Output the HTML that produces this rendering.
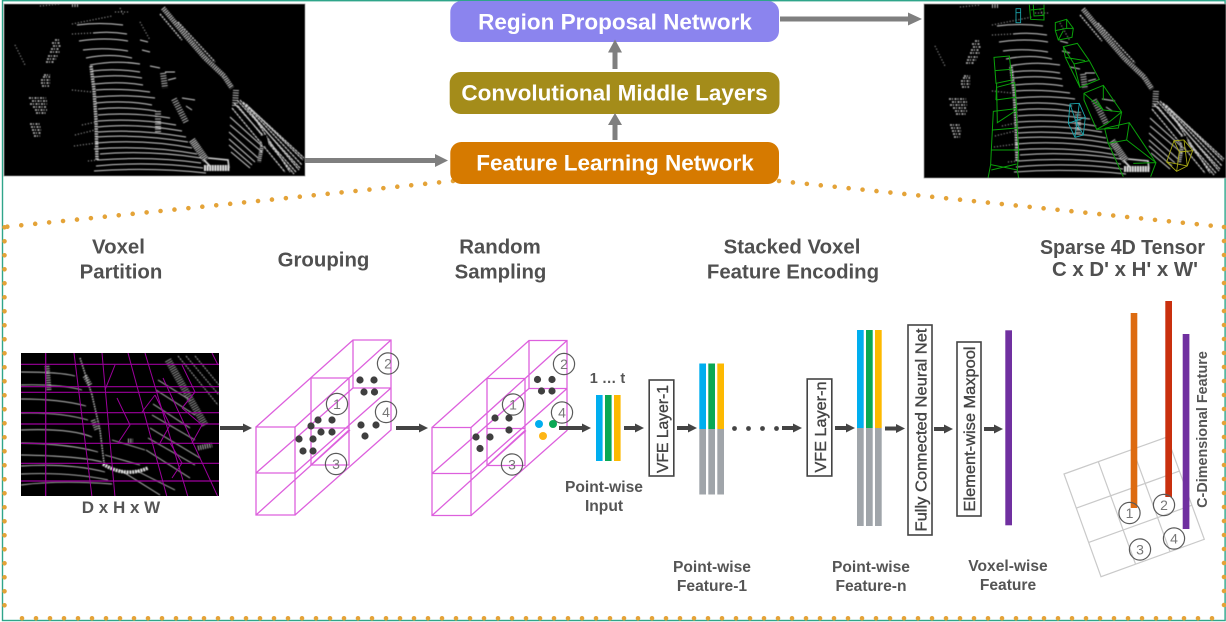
<!DOCTYPE html>
<html><head><meta charset="utf-8"><style>
html,body{margin:0;padding:0;background:#fff}
svg{display:block}
text{font-family:"Liberation Sans",sans-serif}
.h{font-weight:700;font-size:20.4px;fill:#505050;text-anchor:middle}
.s{font-weight:700;font-size:15.6px;fill:#555;text-anchor:middle}
.t{font-weight:700;font-size:22.5px;fill:#fff;text-anchor:middle}
.r{font-size:15.6px;font-weight:400;fill:#444;stroke:#444;stroke-width:.35;text-anchor:middle}
.n{font-size:14px;fill:#777;text-anchor:middle}
</style></head><body>
<svg width="1226" height="622" viewBox="0 0 1226 622" xmlns="http://www.w3.org/2000/svg">
<defs>
<filter id="b" x="-5%" y="-5%" width="110%" height="110%"><feGaussianBlur stdDeviation=".4"/></filter>
<g id="cloud" fill="none" stroke="#d0d0d0" filter="url(#b)">
<path stroke-width="1" d="M77 25Q100 22 123 25M93 33Q110 31 127 34M79 41Q105 37 128 41M83 50Q105 47 128 51M86 58Q110 53 132 58M90 65Q115 60 140 64M92 71Q115 68 140 72M94 77Q118 74 142 78M95 84Q120 81 143 85M96 90Q120 88 150 92M96 97Q125 94 155 98M96 103Q125 100 152 105M98 109Q125 106 156 111M98 115Q130 112 170 118M98 121Q135 118 176 125M98 127Q135 123 182 131M98 132Q140 129 186 137M96 137Q140 134 188 142M96 143Q145 139 192 148M94 149Q145 145 197 154M100 154Q150 150 201 158M98 160Q150 156 201 163M96 166Q150 161 203 168M94 171Q150 167 206 173"/>
<path stroke-width="1" d="M230 117L262 146M230 125L262 152M229 132L258 158M229 139L255 162M229 145L252 165M231 152L250 168M140 40L148 42M142 50L150 52M150 66L160 68M165 72L175 72M168 80L176 78M182 98L195 100M186 106L192 110"/>
<path stroke-width="1.2" stroke-dasharray="3 .6" d="M237 100L300 168M240 100L299 170M234 103L296 172M243 102L302 165M246 104L303 160M250 108L304 158M252 114L290 172M232 108L285 172M238 106L294 174"/>
<path stroke="#c0c0c0" stroke-width="5" stroke-dasharray="1.2 1" d="M163 8L186 36L205 58L224 76L232 88"/>
<path stroke="#c4c4c4" stroke-width="1.5" stroke-dasharray="2 1" d="M160 14L182 40M178 22L215 62"/>
<path stroke-width="3.5" stroke-dasharray="1.5 1" d="M91 66L94 90L96 120L97 160"/>
<path stroke="#c8c8c8" stroke-width="1.6" stroke-dasharray="2 1 1 1.5" d="M46 62H54M47 59H56M48 56H58M50 52H60M51 49H59M53 46H61M52 43H60M55 40H59M42 86H49M41 83H50M41 80H50M43 77H50M44 75H50M29 98H46M32 101H47M30 104H47M33 107H47M35 110H47M36 113H46M30 124H41M31 127H42M32 130H41M33 133H41M34 136H40"/>
<path stroke="#bdbdbd" stroke-width="6" stroke-dasharray="1 1.5" d="M158 111V132M163 73L165 88M174 99L186 122M236 90L235 106M72 4H78"/>
<path stroke="#c0c0c0" stroke-width="1" stroke-dasharray="1 2" d="M15 45L25 65M72 24L112 16M115 12L128 12M72 34L92 33M140 22L150 40M40 6L60 4M120 8L124 16M72 90L92 92M82 125L96 122M75 135L95 130M74 146L96 143M88 161L98 160"/>
<path stroke="#d4d4d4" stroke-width="7" stroke-dasharray="1 1" d="M192 140L206 160"/>
<path stroke="#e4e4e4" stroke-width="6" stroke-dasharray="2 .6" d="M204 168H230"/>
<path stroke="#d4d4d4" stroke-width="1.6" d="M208 158L228 160L229 168M204 160L210 166"/>
<path stroke="#d0d0d0" stroke-width="4" stroke-dasharray="1 1" d="M262 146L259 162"/>
<path stroke="#000" stroke-width="7" d="M263 135L266 146"/>
</g>
<g id="vox" fill="none">
<g stroke="#dd60dd" stroke-width="1.3">
<path d="M256 427L353 340H391V430L295 515M295 427L391 340M256 473L353 388M295 473L391 388M256 515L350 430M353 340V388H391"/>
<path d="M311 378V465H349V378H311M311 428H349M311 465L349 430"/>
<path d="M256 427H295V515H256ZM256 473H295"/>
</g>
<g stroke="#5a5a5a" stroke-width="1.2">
<circle cx="337" cy="404" r="10.6"/><circle cx="388" cy="363.5" r="10.6"/><circle cx="386" cy="412" r="10.6"/><circle cx="336" cy="464" r="10.6"/>
</g>
</g>
</defs>

<rect x="2.5" y="0.7" width="1222.6" height="619.8" fill="#fff" stroke="#2fa58a" stroke-width="1.4"/>

<!-- dotted callout -->
<g fill="none" stroke="#e4a338" stroke-width="4.6" stroke-linecap="round" stroke-dasharray="0 14">
<path d="M453 181L4.5 227"/>
<path d="M779 181L1224 227"/>
<path d="M4.5 227.3V618"/>
<path d="M22 618.3H1224"/>
<path d="M1224 227V618"/>
</g>

<!-- point cloud left -->
<svg x="4" y="4" width="301" height="172" viewBox="4 4 301 172">
<rect x="4" y="4" width="301" height="172" fill="#000"/>
<use href="#cloud"/>
</svg>
<rect x="4" y="4" width="301" height="172" fill="none" stroke="#999" stroke-width=".8"/>

<!-- point cloud right -->
<svg x="924" y="4" width="302" height="174" viewBox="924 4 302 174">
<rect x="924" y="4" width="302" height="174" fill="#000"/>
<use href="#cloud" transform="translate(920,1)"/>
<g transform="translate(900,0) scale(.3333)" fill="none" stroke="#0aa00a" stroke-width="3">
<path d="M388 14L392 58L432 60V14M392 30L432 26M400 14L402 48L432 46"/>
<path d="M466 68L500 58L520 85L516 112L475 120L466 92ZM466 92L500 85L520 85M500 58V85M475 120L490 92"/>
<path d="M490 140L532 130L568 182L522 192L490 140ZM490 140L496 172L540 262L598 238L568 182M522 192L540 262M496 172L555 182"/>
<path d="M552 280L610 256L665 336L620 372L590 388L552 300ZM552 280L610 330L665 336M610 256L610 300M590 300L610 330M590 388L655 384L665 336"/>
<path d="M614 385L688 368L768 488L752 530M614 385L625 430L670 530M688 368L680 420M625 430L680 420L768 488M700 490L768 488"/>
<path d="M282 172L328 168L336 240L288 250ZM286 212L330 208M290 250L288 300M290 262L344 248L350 330L292 368L290 262M288 300L345 292"/>
<path d="M280 334L348 326L356 450L274 450ZM278 390L350 384M274 450L272 494L352 510L356 450M272 494L264 535M352 510L356 535M274 510L350 492"/>
</g>
<g transform="translate(900,0) scale(.3333)" fill="none" stroke="#1ba6ad" stroke-width="2.6">
<path d="M348 26H362V68H348ZM348 38H362"/>
<path d="M510 312L538 310L556 352L550 405L525 412L505 370ZM510 312L528 365L550 405M538 310L525 412M505 370L556 352"/>
</g>
<g transform="translate(900,0) scale(.3333)" fill="none" stroke="#a8a815" stroke-width="2.6">
<path d="M822 422L852 420L878 452L862 498L830 514L800 486ZM822 422L838 456L878 452M838 456L830 514M800 486L862 498M852 420L862 498"/>
</g>
</svg>
<rect x="924" y="4" width="302" height="174" fill="none" stroke="#999" stroke-width=".8"/>

<!-- top stack -->
<rect x="450.3" y="1" width="328.7" height="41" rx="11" fill="#8b84ee"/>
<rect x="449.7" y="72" width="329.8" height="42" rx="11" fill="#a48c1a"/>
<rect x="450.3" y="142" width="328.7" height="42" rx="11" fill="#d67a00"/>
<text class="t" x="615" y="29.5">Region Proposal Network</text>
<text class="t" x="614.5" y="100.7">Convolutional Middle Layers</text>
<text class="t" x="615" y="170.7">Feature Learning Network</text>

<!-- top arrows -->
<g fill="#7f7f7f">
<path d="M305 158H435V154L448 160.5L435 167V163H305Z"/>
<path d="M612.5 69V52.5H608L615 39.5L622 52.5H617.5V69Z"/>
<path d="M612.5 140V125H608L615 113L622 125H617.5V140Z"/>
<path d="M780 16.5H908V12.5L922 19L908 25.5V21.5H780Z"/>
</g>

<!-- headings -->
<text class="h" x="118.5" y="253.5">Voxel</text>
<text class="h" x="121" y="278.5">Partition</text>
<text class="h" x="323.5" y="266.5">Grouping</text>
<text class="h" x="500" y="253.5">Random</text>
<text class="h" x="500.5" y="278.5">Sampling</text>
<text class="h" x="792" y="253.5">Stacked Voxel</text>
<text class="h" x="793" y="278.5">Feature Encoding</text>
<text class="h" x="1122.5" y="254" textLength="165" lengthAdjust="spacingAndGlyphs">Sparse 4D Tensor</text>
<text class="h" x="1125" y="276" textLength="146" lengthAdjust="spacingAndGlyphs">C x D' x H' x W'</text>

<!-- voxel image -->
<svg x="21" y="353" width="198" height="143" viewBox="21 353 198 143">
<rect x="21" y="353" width="198" height="143" fill="#000"/>
<g fill="none" stroke="#c0c0c0" stroke-width=".9" filter="url(#b)">
<path d="M21 372Q60 372 75 376M21 385Q60 384 82 390M21 399Q60 399 86 406M21 413Q60 412 88 420M21 430Q70 428 92 437M21 443Q70 444 98 452M21 455Q80 456 102 462M21 466Q70 463 105 472M21 474Q70 472 108 480M21 485Q60 480 112 484"/>
<path d="M158 380L190 400M156 390L195 415M153 404L190 428M152 415L195 440M150 428L200 458M148 438L195 465M146 450L190 478M135 470L175 490M120 470L160 495M112 440L145 450M105 455L140 465"/>
<path stroke="#9a9a9a" stroke-width="7" stroke-dasharray="1 1.3" d="M168 360L205 425"/>
<path stroke="#aaa" stroke-width="1" stroke-dasharray="2 1" d="M178 356L218 405M186 356L219 395M195 356L219 385"/>
<path stroke="#bbb" stroke-width="1.6" stroke-dasharray="1.5 1" d="M80 358L92 395L100 430L104 463"/>
<path stroke="#e4e4e4" stroke-width="3.5" stroke-dasharray="2 .8" d="M103 464Q125 478 148 468"/>
<path stroke="#bbb" stroke-width="5" stroke-dasharray="1 1.3" d="M47 366L49 390M85 376L90 385M93 420L97 430M198 448L212 445M128 441H133"/>
</g>
<g fill="none" stroke="#9c009c" stroke-width="1">
<path d="M21 364.3H219M21 386.7H219M21 392.3H219M21 412.7H219M21 424H219M21 443.3H219M21 463.3H219M21 481H219" stroke-width="1.2"/>
<path d="M45.7 353V496" stroke-width="1.2"/>
<path d="M74 353L92 497M102 353L115 497M128 353L167 497M145 353L188 497M163 378L218 497M212 353L218 365"/>
<path d="M105 390L115 365M118 443L130 425L117 398M155 395L142 412M160 443L170 425L155 395M172 478L182 463L170 443M182 408L195 392L182 365M192 443L202 425L182 408"/>
</g>
</svg>
<text class="s" x="121" y="513" style="font-size:17px">D x H x W</text>

<!-- voxel boxes -->
<use href="#vox"/>
<use href="#vox" transform="translate(176,.5)"/>
<text class="n" x="337" y="409">1</text><text class="n" x="388" y="368.5">2</text><text class="n" x="386" y="417">4</text><text class="n" x="336" y="469">3</text>
<text class="n" x="513" y="409.5">1</text><text class="n" x="564" y="369">2</text><text class="n" x="562" y="417.5">4</text><text class="n" x="512" y="469.5">3</text>
<g fill="#3f3f3f">
<circle cx="360" cy="380" r="3.6"/><circle cx="374" cy="380" r="3.6"/><circle cx="364" cy="392" r="3.6"/><circle cx="374.5" cy="392" r="3.6"/>
<circle cx="361" cy="425" r="3.6"/><circle cx="376" cy="425" r="3.6"/><circle cx="365" cy="436" r="3.6"/>
<circle cx="318" cy="420" r="3.6"/><circle cx="332" cy="420" r="3.6"/><circle cx="311" cy="426" r="3.6"/><circle cx="321" cy="432" r="3.6"/><circle cx="332" cy="432" r="3.6"/>
<circle cx="299" cy="439" r="3.6"/><circle cx="313" cy="439" r="3.6"/><circle cx="303" cy="451" r="3.6"/><circle cx="313" cy="451" r="3.6"/>
<circle cx="537.5" cy="379.5" r="3.6"/><circle cx="552" cy="379.5" r="3.6"/><circle cx="541.5" cy="391" r="3.6"/><circle cx="552" cy="391" r="3.6"/>
<circle cx="495" cy="418" r="3.6"/><circle cx="509" cy="418" r="3.6"/><circle cx="509" cy="430" r="3.6"/>
<circle cx="476" cy="437" r="3.6"/><circle cx="490" cy="437" r="3.6"/><circle cx="480" cy="448.5" r="3.6"/>
</g>
<circle cx="539" cy="424" r="4" fill="#00aeef"/><circle cx="553" cy="424" r="4" fill="#0aa854"/><circle cx="543" cy="436" r="4" fill="#fdb515"/>

<!-- dark arrows -->
<g fill="#444">
<path d="M220 426H243V423.5L252 428L243 432.5V430H220Z"/>
<path d="M396 426H419V423.5L428 428L419 432.5V430H396Z"/>
<path d="M559 426H582V423.5L591 428L582 432.5V430H559Z"/>
<path d="M624 426H635V423.5L644 428L635 432.5V430H624Z"/>
<path d="M677 426H688V423.5L697 428L688 432.5V430H677Z"/>
<path d="M782 426H793V423.5L802 428L793 432.5V430H782Z"/>
<path d="M835 426H846V423.5L855 428L846 432.5V430H835Z"/>
<path d="M885 426.5H896V424L905 428.5L896 433V430.5H885Z"/>
<path d="M934 427H944V424.5L953 429L944 433.5V431H934Z"/>
<path d="M984 427H994V424.5L1003 429L994 433.5V431H984Z"/>
<circle cx="734.5" cy="428.5" r="2.4"/><circle cx="748.5" cy="428.5" r="2.4"/><circle cx="762.5" cy="428.5" r="2.4"/><circle cx="776.5" cy="428.5" r="2.4"/>
</g>

<!-- bars -->
<rect x="596" y="395" width="6.6" height="66" fill="#00aeef"/><rect x="605" y="395" width="6.6" height="66" fill="#0aa854"/><rect x="614" y="395" width="6.6" height="66" fill="#fdb900"/>
<text class="s" x="607.5" y="383" style="font-size:14.5px">1 … t</text>
<text class="s" x="604" y="492">Point-wise</text><text class="s" x="604" y="511">Input</text>

<rect x="699.3" y="363.5" width="6.7" height="65.5" fill="#00aeef"/><rect x="708.3" y="363.5" width="6.7" height="65.5" fill="#0aa854"/><rect x="717.3" y="363.5" width="6.7" height="65.5" fill="#fdb900"/>
<rect x="699.3" y="429" width="6.7" height="65.5" fill="#a0a5aa"/><rect x="708.3" y="429" width="6.7" height="65.5" fill="#a0a5aa"/><rect x="717.3" y="429" width="6.7" height="65.5" fill="#a0a5aa"/>

<rect x="857" y="330" width="6.7" height="98" fill="#00aeef"/><rect x="866" y="330" width="6.7" height="98" fill="#0aa854"/><rect x="875" y="330" width="6.7" height="98" fill="#fdb900"/>
<rect x="857" y="428" width="6.7" height="98" fill="#a0a5aa"/><rect x="866" y="428" width="6.7" height="98" fill="#a0a5aa"/><rect x="875" y="428" width="6.7" height="98" fill="#a0a5aa"/>

<rect x="1005.3" y="330.3" width="6.7" height="195" fill="#7030a0"/>

<!-- labelled boxes -->
<g fill="#fff" stroke="#444" stroke-width="1.6">
<rect x="649.2" y="380" width="24.6" height="96"/>
<rect x="807.2" y="379" width="24.6" height="97"/>
<rect x="908" y="325" width="24" height="210"/>
<rect x="957" y="342" width="24" height="174"/>
</g>
<text class="r" transform="translate(668,429) rotate(-90)" textLength="88" lengthAdjust="spacingAndGlyphs">VFE Layer-1</text>
<text class="r" transform="translate(826,427) rotate(-90)" textLength="91" lengthAdjust="spacingAndGlyphs">VFE Layer-n</text>
<text class="r" transform="translate(926.5,430) rotate(-90)" textLength="203" lengthAdjust="spacingAndGlyphs">Fully Connected Neural Net</text>
<text class="r" transform="translate(975,429) rotate(-90)" textLength="165" lengthAdjust="spacingAndGlyphs">Element-wise Maxpool</text>
<text class="s" x="712" y="572">Point-wise</text><text class="s" x="712" y="591">Feature-1</text>
<text class="s" x="871" y="572">Point-wise</text><text class="s" x="871" y="591">Feature-n</text>
<text class="s" x="1008" y="571">Voxel-wise</text><text class="s" x="1008" y="590">Feature</text>

<!-- tensor -->
<g fill="none" stroke="#c9c9c9" stroke-width="1.2">
<path d="M1064 474L1167 437L1204.3 539.3L1101 576.7Z"/>
<path d="M1098.3 461.7L1135.5 564M1132.7 449.3L1170 551.6M1076.4 508.1L1179.4 471.1M1088.7 542.4L1191.9 505.2"/>
</g>
<rect x="1130.7" y="313" width="6.6" height="195" fill="#dd6b10"/>
<rect x="1165.3" y="301" width="6.7" height="196" fill="#c9300e"/>
<rect x="1182.7" y="334" width="6.7" height="195" fill="#7030a0"/>
<g fill="none" stroke="#5a5a5a" stroke-width="1.2">
<circle cx="1129.5" cy="513" r="10.6"/><circle cx="1164" cy="505" r="10.6"/><circle cx="1140" cy="549.5" r="10.6"/><circle cx="1174" cy="538.5" r="10.6"/>
</g>
<text class="n" x="1129.5" y="518">1</text><text class="n" x="1164" y="510">2</text><text class="n" x="1140" y="554.5">3</text><text class="n" x="1174" y="543.5">4</text>
<text class="s" transform="translate(1207,429.5) rotate(-90)" style="font-size:14.4px">C-Dimensional Feature</text>
</svg>
</body></html>
